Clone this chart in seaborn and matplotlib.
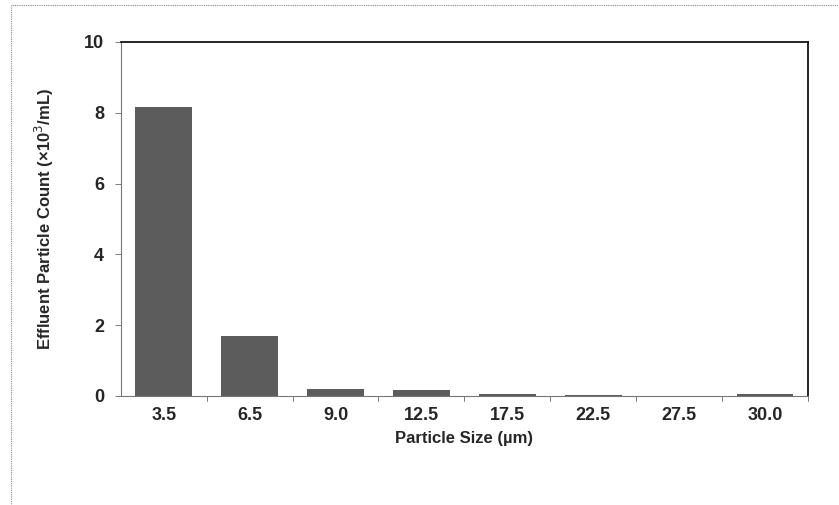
import matplotlib
matplotlib.use('Agg')
import matplotlib.pyplot as plt
import seaborn as sns
import pandas as pd
from matplotlib.patches import Rectangle

particle_size = ['3.5', '6.5', '9.0', '12.5', '17.5', '22.5', '27.5', '30.0']
particle_count = [8.15, 1.68, 0.20, 0.16, 0.06, 0.02, 0.01, 0.05]

df = pd.DataFrame({'Size': particle_size, 'Count': particle_count})

sns.set_style('white')
plt.rcParams['font.family'] = ['Liberation Sans', 'DejaVu Sans']

fig = plt.figure(figsize=(8.39, 5.05), dpi=100)
ax = fig.add_axes([0.144, 0.216, 0.819, 0.701])

sns.barplot(data=df, x='Size', y='Count', color='#5c5c5c', saturation=1,
            width=0.66, edgecolor='none', ax=ax)

ax.set_ylim(0, 10)
ax.set_xlim(-0.5, len(particle_size) - 0.5)
ax.set_yticks([0, 2, 4, 6, 8, 10])
ax.set_yticklabels(['0', '2', '4', '6', '8', '10'], fontsize=13, fontweight='bold')
ax.set_xticks(range(len(particle_size)))
ax.set_xticklabels(particle_size, fontsize=13, fontweight='bold')
ax.tick_params(axis='x', length=0, pad=8)
ax.tick_params(axis='y', length=4, width=0.6, color='#666666', pad=8, left=True)

# tick marks between categories on x axis
for b in range(1, len(particle_size) + 1):
    ax.plot([b - 0.5, b - 0.5], [0, -0.15], color='#666666', lw=0.6, clip_on=False)

ax.set_xlabel('Particle Size (µm)', fontsize=12, fontweight='bold', labelpad=5)
ax.set_ylabel('Effluent Particle Count (×10$^3$/mL)', fontsize=12, fontweight='bold', labelpad=20)

for side in ['top', 'right']:
    ax.spines[side].set_color('black')
    ax.spines[side].set_linewidth(1.2)
for side in ['left', 'bottom']:
    ax.spines[side].set_color('#777777')
    ax.spines[side].set_linewidth(0.8)
    ax.spines[side].set_linestyle((0, (1, 1)))

# outer frame around the chart
fig.patches.append(Rectangle((0.013, -0.05), 1.1, 1.04, transform=fig.transFigure,
                             fill=False, edgecolor='#888888', lw=0.8, ls=(0, (1, 1))))

fig.savefig('out.png', dpi=100)
plt.close(fig)
